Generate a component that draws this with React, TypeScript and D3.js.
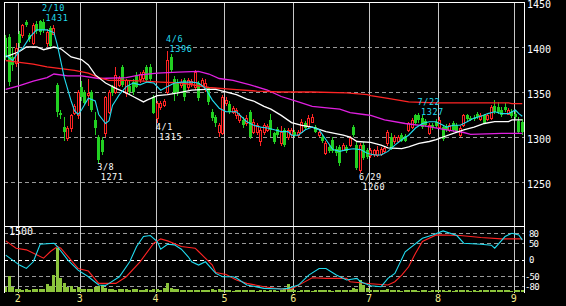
import React from 'react';
import * as d3 from 'd3';

const W = 566;
const H = 306;

// Daily candles (late Jan – early Sep)
const OPEN = [1410,1411,1389,1382,1415,1413,1428,1413,1404,1426,1429,1428,1404,1421,1415,1358,1327,1311,1299,1310,1327,1324,1355,1350,1347,1350,1319,1300,1297,1304,1328,1355,1350,1358,1378,1349,1357,1361,1369,1364,1366,1378,1378,1344,1321,1333,1336,1350,1389,1365,1361,1358,1363,1356,1360,1356,1360,1358,1354,1354,1328,1322,1306,1304,1338,1337,1328,1324,1319,1319,1315,1328,1306,1306,1295,1306,1308,1319,1304,1309,1293,1308,1300,1303,1306,1302,1306,1316,1312,1317,1311,1302,1300,1282,1289,1297,1287,1289,1286,1289,1291,1311,1291,1263,1291,1285,1280,1281,1280,1281,1284,1293,1300,1295,1295,1302,1301,1308,1311,1324,1324,1321,1318,1304,1313,1317,1311,1311,1311,1308,1315,1313,1302,1313,1324,1321,1321,1326,1320,1324,1320,1321,1335,1333,1330,1333,1326,1328,1326,1318,1317];
const HIGH = [1413,1415,1400,1404,1418,1426,1430,1416,1427,1429,1430,1431,1420,1423,1424,1360,1330,1322,1312,1326,1337,1352,1362,1352,1364,1352,1328,1302,1300,1346,1352,1358,1378,1368,1380,1365,1362,1364,1372,1372,1375,1380,1381,1347,1340,1340,1342,1396,1392,1368,1364,1364,1366,1366,1365,1375,1362,1366,1364,1356,1331,1324,1316,1347,1344,1340,1334,1332,1327,1322,1324,1330,1320,1316,1310,1316,1314,1326,1306,1311,1312,1310,1310,1310,1308,1308,1320,1318,1324,1325,1313,1308,1302,1296,1291,1300,1290,1291,1293,1291,1301,1313,1294,1293,1294,1288,1288,1287,1290,1289,1290,1308,1304,1302,1302,1304,1303,1317,1321,1326,1327,1324,1320,1316,1316,1320,1322,1313,1314,1315,1318,1316,1312,1326,1326,1323,1324,1328,1327,1326,1326,1336,1341,1339,1333,1338,1332,1331,1330,1322,1320];
const LOW = [1386,1357,1373,1378,1400,1410,1422,1405,1402,1415,1413,1416,1400,1398,1413,1322,1320,1295,1295,1306,1324,1320,1340,1336,1335,1328,1302,1271,1280,1300,1325,1346,1348,1355,1356,1345,1348,1347,1354,1360,1362,1360,1362,1325,1315,1330,1333,1348,1372,1340,1346,1354,1340,1352,1356,1352,1340,1355,1350,1336,1318,1311,1300,1302,1335,1326,1325,1320,1316,1310,1312,1298,1303,1302,1290,1302,1305,1300,1292,1300,1290,1289,1297,1300,1300,1300,1304,1308,1310,1315,1304,1300,1293,1280,1282,1282,1279,1268,1284,1282,1289,1300,1263,1260,1275,1276,1277,1278,1278,1279,1282,1290,1285,1292,1293,1294,1294,1305,1309,1313,1316,1309,1311,1302,1308,1310,1309,1296,1305,1305,1306,1304,1300,1311,1318,1318,1318,1320,1318,1314,1318,1319,1326,1326,1322,1328,1324,1321,1320,1303,1302];
const CLOSE = [1390,1361,1380,1399,1404,1424,1425,1409,1425,1418,1417,1419,1417,1401,1421,1328,1324,1305,1310,1324,1335,1350,1344,1338,1349,1330,1310,1275,1283,1344,1350,1349,1369,1366,1358,1363,1350,1350,1356,1370,1372,1363,1365,1327,1338,1338,1340,1386,1375,1349,1350,1361,1344,1363,1362,1372,1343,1363,1360,1339,1321,1315,1313,1344,1341,1328,1332,1330,1324,1313,1321,1300,1317,1313,1308,1313,1312,1308,1294,1302,1306,1291,1308,1308,1302,1306,1317,1310,1321,1322,1306,1306,1295,1293,1284,1284,1282,1271,1291,1284,1299,1302,1266,1291,1277,1278,1285,1285,1285,1287,1288,1306,1287,1300,1300,1296,1296,1315,1319,1315,1319,1311,1313,1313,1311,1312,1319,1298,1308,1313,1308,1306,1310,1324,1320,1319,1320,1322,1324,1316,1324,1333,1328,1328,1324,1330,1330,1323,1322,1306,1305];
const VOLUME = [110,370,110,75,70,60,75,60,75,75,70,80,190,150,395,1000,320,205,110,150,80,130,70,80,70,80,130,150,170,105,75,70,60,70,65,70,60,70,65,55,60,70,60,80,80,60,90,205,100,80,70,55,60,50,55,60,50,45,55,60,70,50,80,60,55,45,40,45,50,60,45,55,50,40,45,50,40,45,55,40,60,75,190,80,45,40,50,45,55,40,45,60,50,45,55,40,50,60,45,55,60,90,70,280,167,90,55,50,45,60,50,75,55,45,50,40,45,50,55,45,40,50,45,40,50,45,50,55,40,45,40,50,45,55,50,40,45,40,50,45,55,60,50,45,55,50,45,40,50,55,60];

// Moving averages, read as [day index, price]
const MA_SHORT: [number, number][] = [[0,1391],[2,1385],[4,1396],[5,1399],[7,1411],[9,1419],[12,1419],[14,1416],[15,1402],[17,1366],[19,1340],[20,1329],[21,1325],[22,1330],[24,1343],[26,1340],[27,1325],[29,1315],[30,1318],[31,1335],[33,1347],[35,1356],[37,1360],[39,1358],[41,1361],[43,1360],[45,1352],[47,1356],[49,1360],[51,1361],[54,1361],[56,1360],[58,1354],[60,1341],[62,1332],[64,1328],[67,1328],[70,1317],[72,1313],[74,1311],[76,1310],[78,1308],[80,1306],[82,1306],[83,1302],[85,1302],[87,1308],[89,1311],[91,1308],[93,1297],[95,1286],[97,1284],[99,1286],[101,1287],[103,1286],[105,1282],[107,1280],[109,1280],[111,1284],[113,1291],[115,1297],[117,1302],[119,1310],[121,1315],[123,1317],[125,1317],[127,1313],[128,1311],[130,1313],[132,1313],[134,1317],[136,1321],[138,1323],[140,1326],[142,1328],[144,1326],[146,1326],[148,1330],[149,1326],[150,1323]];
const MA_MID: [number, number][] = [[0,1389],[4,1395],[6,1400],[9,1400],[11,1397],[14,1400],[16,1398],[19,1389],[22,1386],[24,1380],[26,1369],[29,1360],[32,1354],[35,1349],[37,1345],[40,1339],[41,1341],[44,1346],[47,1347],[50,1349],[54,1352],[58,1353],[61,1353],[63,1351],[67,1347],[70,1342],[72,1340],[75,1334],[77,1331],[80,1324],[83,1316],[86,1313],[89,1311],[93,1306],[98,1302],[100,1300],[102,1295],[106,1294],[109,1291],[111,1288],[115,1287],[117,1289],[120,1293],[123,1295],[125,1297],[127,1300],[130,1304],[133,1308],[136,1311],[139,1315],[142,1317],[146,1317],[147,1319],[150,1319]];
const MA_LONG: [number, number][] = [[0,1385],[4,1383],[8,1381],[12,1378],[16,1376],[20,1374],[24,1371],[27,1366],[30,1363],[35,1363],[40,1362],[45,1361],[51,1360],[59,1355],[66,1353],[73,1351],[80,1350],[89,1350],[99,1349],[105,1347],[106,1346],[111,1343],[117,1339],[125,1338],[146,1338],[147,1337],[150,1337]];
const MA_XLONG: [number, number][] = [[0,1353],[4,1357],[8,1362],[12,1366],[14,1370],[18,1368],[22,1368],[27,1365],[35,1366],[39,1369],[44,1371],[50,1372],[56,1373],[59,1370],[62,1365],[66,1363],[71,1358],[76,1352],[80,1345],[85,1339],[89,1334],[94,1332],[97,1331],[100,1327],[104,1325],[106,1324],[110,1319],[116,1315],[122,1312],[128,1308],[133,1305],[135,1303],[144,1304],[150,1304]];

// Oscillators (RCI), read as [day index, value]
const RCI_FAST: [number, number][] = [[0,14],[4,-16],[6,-26],[8,-6],[10,47],[14,50],[15,40],[18,0],[21,-31],[24,-51],[27,-76],[29,-77],[30,-71],[33,-51],[36,-6],[38,40],[40,70],[42,73],[44,55],[45,32],[47,47],[49,45],[51,32],[53,9],[54,-6],[56,-16],[58,-6],[61,-41],[63,-51],[66,-51],[67,-55],[70,-76],[75,-86],[80,-88],[82,-86],[85,-76],[88,-46],[91,-26],[93,-26],[96,-46],[99,-61],[102,-56],[103,-66],[106,-78],[109,-81],[111,-56],[113,-41],[116,24],[121,65],[124,75],[127,87],[131,73],[133,50],[138,47],[141,44],[142,35],[145,70],[147,80],[149,75],[150,60]];
const RCI_SLOW: [number, number][] = [[0,57],[3,35],[6,30],[11,5],[13,25],[15,40],[16,35],[21,-26],[24,-34],[27,-71],[32,-71],[35,-51],[39,-6],[43,50],[45,63],[47,57],[51,40],[55,35],[56,25],[60,-16],[61,-38],[64,-44],[67,-61],[70,-71],[75,-81],[80,-88],[83,-88],[86,-71],[89,-54],[93,-56],[99,-56],[100,-66],[106,-72],[111,-76],[113,-66],[115,-46],[117,-21],[119,20],[121,55],[125,75],[132,73],[138,67],[144,63],[150,63]];

const MONTH_LABELS = ['2', '3', '4', '5', '6', '7', '8', '9'];
const MONTH_START = [4, 22, 44, 64, 84, 106, 126, 148];
const PRICE_TICKS = [1450, 1400, 1350, 1300, 1250];
const OSC_TICKS = [80, 50, 0, -50, -80];
const VOLUME_MAX_LABEL = '1500';

const MARKS = [
  { idx: 11, date: '2/10', price: 1431, kind: 'high' },
  { idx: 27, date: '3/8', price: 1271, kind: 'low' },
  { idx: 44, date: '4/1', price: 1315, kind: 'low' },
  { idx: 47, date: '4/6', price: 1396, kind: 'high' },
  { idx: 103, date: '6/29', price: 1260, kind: 'low' },
  { idx: 120, date: '7/22', price: 1327, kind: 'high' },
];

const PL = 4, PR = 524, MT = 2, MB = 226, LB = 293;
const C_UP = '#ff2424';
const C_DN = '#22d022';
const C_CYAN = '#22dcf0';
const C_MAG = '#e020e0';
const C_VOL = '#8cc43c';
const MONO = '"DejaVu Sans Mono", "Liberation Mono", monospace';

export default function App() {
  const N = CLOSE.length;
  const x = d3.scaleLinear().domain([0, N]).range([PL, PR]);
  const cx = (i: number) => x(i + 0.5);
  const yP = d3.scaleLinear().domain([1450 - (MB - MT) / 0.9, 1450]).range([MB, MT]);
  const yO = d3.scaleLinear().domain([-100, 100]).range([LB, 226.6]);
  const yV = d3.scaleLinear().domain([0, 1500]).range([292.3, 226.3]);

  const priceLine = d3.line<[number, number]>().x(d => cx(d[0])).y(d => yP(d[1]));
  const oscLine = d3.line<[number, number]>().x(d => cx(d[0])).y(d => yO(d[1]));
  const snap = (v: number) => Math.round(v) + 0.5;

  const candles = d3.range(N).map(i => {
    const c = Math.floor(cx(i));
    const o = OPEN[i], h = HIGH[i], l = LOW[i], cl = CLOSE[i];
    const up = cl >= o;
    const yTop = Math.round(yP(Math.max(o, cl)));
    const yBot = Math.round(yP(Math.min(o, cl)));
    const yH = Math.round(yP(h));
    const yL = Math.round(yP(l));
    if (up) {
      const bh = Math.max(1, yBot - yTop);
      return (
        <g key={i}>
          <line x1={c + 0.5} x2={c + 0.5} y1={yH} y2={yTop} stroke={C_UP} strokeWidth={1} />
          <line x1={c + 0.5} x2={c + 0.5} y1={yBot} y2={yL} stroke={C_UP} strokeWidth={1} />
          <rect x={c - 0.5} y={yTop + 0.5} width={2} height={bh} fill="#000" stroke={C_UP} strokeWidth={1} />
        </g>
      );
    }
    return (
      <g key={i}>
        <line x1={c + 0.5} x2={c + 0.5} y1={yH} y2={yL} stroke={C_DN} strokeWidth={1} />
        <rect x={c - 1} y={yTop} width={3} height={Math.max(1, yBot - yTop)} fill={C_DN} />
      </g>
    );
  });

  return (
    <div style={{ position: 'absolute', left: 0, top: 0 }}>
      <svg width={W} height={H} style={{ display: 'block', background: '#000' }}>
        <defs>
          <clipPath id="mainClip"><rect x={PL} y={MT} width={PR - PL} height={MB - MT} /></clipPath>
          <clipPath id="lowClip"><rect x={PL} y={MB} width={PR - PL} height={LB - MB} /></clipPath>
        </defs>
        <rect x={0} y={0} width={W} height={H} fill="#000" />

        {/* horizontal grid */}
        <g shapeRendering="crispEdges">
          {PRICE_TICKS.filter(t => t !== 1450).map(t => (
            <line key={t} x1={PL} x2={PR} y1={snap(yP(t))} y2={snap(yP(t))} stroke="#9a9a9a" strokeDasharray="4,3" />
          ))}
          {OSC_TICKS.map(t => (
            <line key={t} x1={PL} x2={PR} y1={snap(yO(t))} y2={snap(yO(t))} stroke={t === 0 ? '#ffffff' : '#9a9a9a'} strokeDasharray="4,3" />
          ))}
          {MONTH_START.map((m, k) => (
            <line key={k} x1={snap(x(m))} x2={snap(x(m))} y1={MT} y2={LB} stroke="#c8c8c8" />
          ))}
        </g>

        {/* volume */}
        <g clipPath="url(#lowClip)" shapeRendering="crispEdges">
          {VOLUME.map((v, i) => {
            const c = Math.floor(cx(i));
            const top = Math.round(yV(v));
            return <rect key={i} x={c - 1} y={top} width={3} height={Math.max(1, Math.round(yV(0)) - top)} fill={C_VOL} />;
          })}
        </g>

        {/* oscillators */}
        <g clipPath="url(#lowClip)" fill="none">
          <path d={oscLine(RCI_SLOW) || ''} stroke={C_UP} strokeWidth={1.1} />
          <path d={oscLine(RCI_FAST) || ''} stroke={C_CYAN} strokeWidth={1.1} />
        </g>

        {/* candles */}
        <g clipPath="url(#mainClip)" shapeRendering="crispEdges">{candles}</g>

        {/* moving averages */}
        <g clipPath="url(#mainClip)" fill="none">
          <path d={priceLine(MA_XLONG) || ''} stroke={C_MAG} strokeWidth={1.3} />
          <path d={priceLine(MA_LONG) || ''} stroke={C_UP} strokeWidth={1.3} />
          <path d={priceLine(MA_MID) || ''} stroke="#ffffff" strokeWidth={1.3} />
          <path d={priceLine(MA_SHORT) || ''} stroke={C_CYAN} strokeWidth={1.1} />
        </g>

        {/* frame */}
        <g shapeRendering="crispEdges" stroke="#ffffff">
          <line x1={PL} x2={PR + 1} y1={MT + 0.5} y2={MT + 0.5} />
          <line x1={PL + 0.5} x2={PL + 0.5} y1={MT} y2={LB} />
          <line x1={PR + 0.5} x2={PR + 0.5} y1={MT} y2={LB} />
          <line x1={PL} x2={PR + 1} y1={MB + 0.5} y2={MB + 0.5} />
        </g>

        {/* high / low marks */}
        <g fontFamily={MONO} fontSize={8.5} letterSpacing={0.6}>
          {MARKS.map(m => {
            const c = cx(m.idx);
            const color = m.kind === 'high' ? C_CYAN : '#ffffff';
            const yy = yP(m.price);
            const yDate = m.kind === 'high' ? yy - 8.2 : yy + 6.8;
            const yPrice = m.kind === 'high' ? yy + 1.8 : yy + 16.8;
            return (
              <g key={m.date} fill={color}>
                <text x={c - 1.5} y={yDate}>{m.date}</text>
                <text x={c + 2} y={yPrice}>{m.price}</text>
              </g>
            );
          })}
        </g>

        {/* right axis labels */}
        <g fontFamily={MONO} fontSize={10} fill="#ffffff">
          {PRICE_TICKS.map(t => (
            <text key={t} x={527} y={Math.round(yP(t)) + 6}>{t}</text>
          ))}
        </g>
        <g fontFamily={MONO} fontSize={9} fill="#ffffff" letterSpacing={-0.8}>
          {OSC_TICKS.map(t => (
            <text key={t} x={t < 0 ? 525 : 529} y={yO(t) + 3.5}>{t < 0 ? '-' + Math.abs(t) : t}</text>
          ))}
        </g>
        <text x={9} y={235} fontFamily={MONO} fontSize={10} fill="#ffffff">{VOLUME_MAX_LABEL}</text>

        {/* month labels */}
        <g fontFamily={MONO} fontSize={10} fill="#f5ea8c" textAnchor="middle">
          {MONTH_START.map((m, k) => (
            <text key={k} x={x(m)} y={302}>{MONTH_LABELS[k]}</text>
          ))}
        </g>
      </svg>
    </div>
  );
}
